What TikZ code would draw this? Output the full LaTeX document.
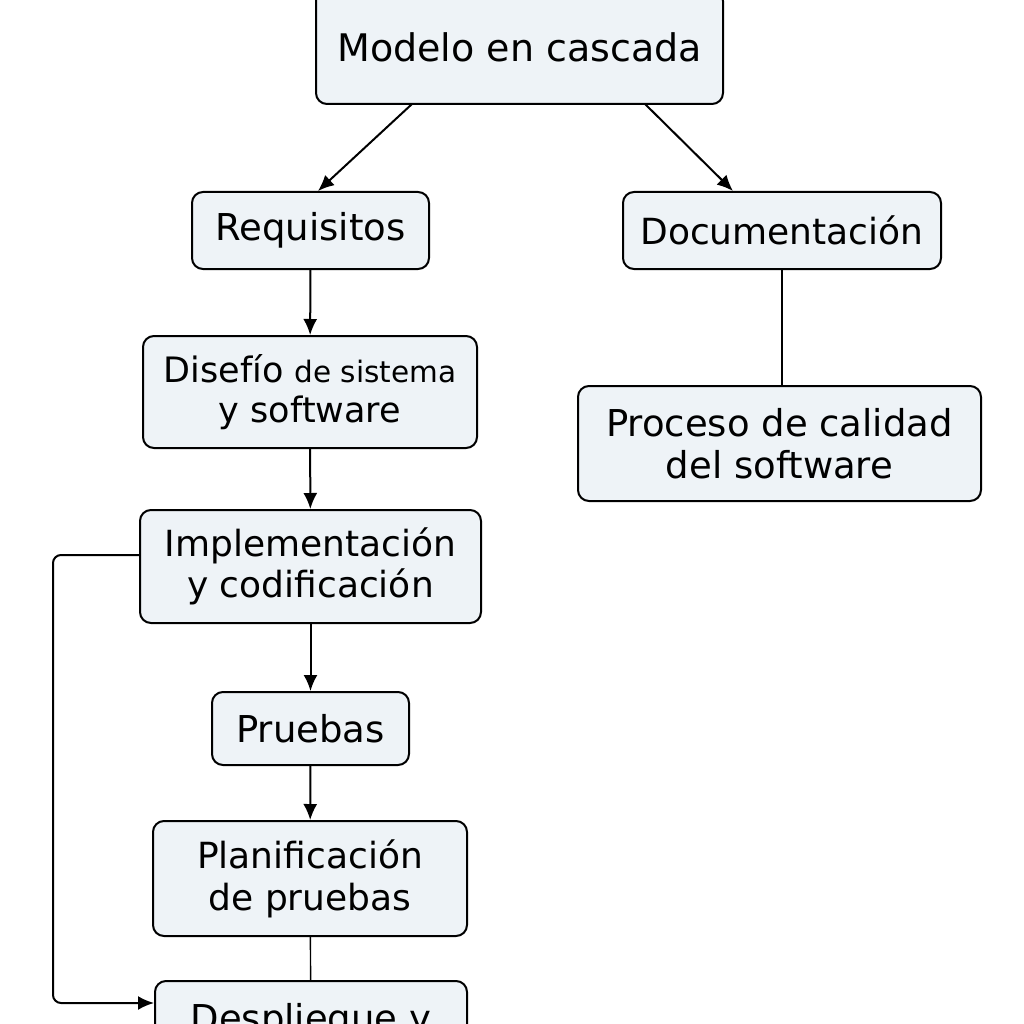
\documentclass[tikz,border=0pt]{standalone}
\usepackage{fontspec}
\setmainfont{DejaVu Sans}
\usetikzlibrary{arrows.meta}
\definecolor{boxfill}{HTML}{EEF3F7}
\tikzset{
  box/.style={draw=black, line width=2pt, rounded corners=11pt, fill=boxfill,
    align=center, inner sep=0pt, font=\fontsize{37}{42}\selectfont},
  arr/.style={line width=2pt, -{Latex[length=16pt,width=14pt]}},
  plain/.style={line width=1.4pt},
}
\begin{document}
\begin{tikzpicture}[x=1pt,y=-1pt]
\useasboundingbox (0,0) rectangle (1024,1024);
\clip (0,0) rectangle (1024,1024);
\node[box, minimum width=407pt, minimum height=114pt, font=\fontsize{38}{42}\selectfont] (top) at (519.5,47) {Modelo en cascada};
\node[box, minimum width=237pt, minimum height=77pt] (req) at (310.5,230.5) {Requisitos};
\node[box, minimum width=318pt, minimum height=77pt, font=\fontsize{36}{42}\selectfont] (doc) at (782,230.5) {Documentación};
\node[box, minimum width=334pt, minimum height=112pt, font=\fontsize{35}{40}\selectfont] (dis) at (310,392) {Disefío {\fontsize{29.5}{40}\selectfont de sistema}\\y software};
\node[box, minimum width=403pt, minimum height=115pt] (cal) at (779.5,443.5) {Proceso de calidad\\del software};
\node[box, minimum width=341pt, minimum height=113pt, font=\fontsize{36}{41}\selectfont] (imp) at (310.5,566.5) {Implementación\\y codificación};
\node[box, minimum width=197pt, minimum height=73pt] (pru) at (310.5,728.5) {Pruebas};
\node[box, minimum width=314pt, minimum height=115pt, font=\fontsize{36}{42}\selectfont] (pla) at (310,878.5) {Planificación\\de pruebas};
\node[box, minimum width=312pt, minimum height=116pt] (des) at (311,1039) {Despliegue y\\mantenimiento};
\coordinate (loopa) at (53,555);
\coordinate (loopb) at (53,1003);
\draw[arr] (412,104) -- (318,191);
\draw[arr] (645,104) -- (733,191);
\draw[arr] (req) -- (dis);
\draw[arr] (dis) -- (imp);
\draw[arr] (imp) -- (pru);
\draw[arr] (pru) -- (pla);
\draw[plain] (doc.south) -- (doc.south |- cal.north);
\draw[plain] (pla) -- (des);
\draw[arr, rounded corners=8pt] (imp.west |- loopa) -- (loopa) -- (loopb) -- (des.west |- loopb);
\end{tikzpicture}
\end{document}
